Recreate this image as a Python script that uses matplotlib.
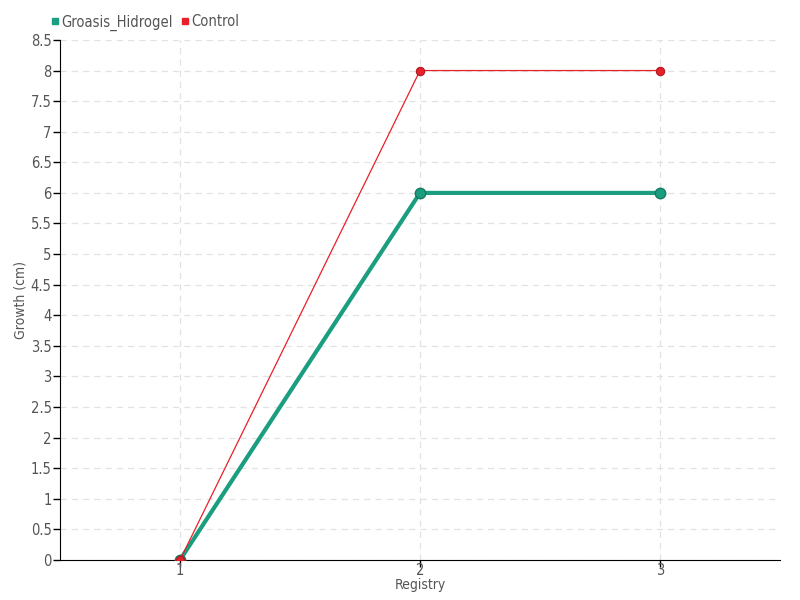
import matplotlib
matplotlib.use('Agg')
from matplotlib import pyplot as plt
from matplotlib.lines import Line2D

# donnees
registros = [1, 2, 3]
groasis_hidrogel = [0, 6, 6]
control = [0, 8, 8]
yticks = [0, 0.5, 1, 1.5, 2, 2.5, 3, 3.5, 4, 4.5, 5, 5.5, 6, 6.5, 7, 7.5, 8, 8.5]

plt.rcParams['font.family'] = ['DejaVu Sans']
plt.rcParams['font.stretch'] = 'condensed'

verde = '#1b9e7f'
rojo = '#e8202a'
gris = '#555555'

fig = plt.figure(figsize=(8, 6), dpi=100)
ax = fig.add_axes([0.075, 0.0667, 0.9, 0.8667])

ax.plot(registros, groasis_hidrogel, color=verde, lw=3, marker='o', ms=7.5,
        mfc=verde, mec='#157a62', mew=1, zorder=3)
ax.plot(registros, control, color=rojo, lw=0.9, marker='o', ms=6,
        mfc=rojo, mec='#b01820', mew=0.8, zorder=4)

ax.set_xlim(0.5, 3.5)
ax.set_ylim(0, 8.5)
ax.set_xticks(registros)
ax.set_xticklabels([str(r) for r in registros])
ax.set_yticks(yticks)
ax.set_yticklabels(['%g' % t for t in yticks])

ax.grid(True, color='#e2e2e2', ls=(0, (5, 4)), lw=0.9)
ax.set_axisbelow(True)
for s in ['top', 'right']:
    ax.spines[s].set_visible(False)
ax.tick_params(axis='both', colors='black', labelcolor=gris, labelsize=10.5, length=5, width=1, pad=1)
ax.tick_params(axis='x', pad=-3)

ax.set_xlabel('Registry', color=gris, fontsize=10, labelpad=0.5)
ax.set_ylabel('Growth (cm)', color=gris, fontsize=10, labelpad=2)

handles = [Line2D([], [], ls='', marker='s', ms=4.5, color=verde),
           Line2D([], [], ls='', marker='s', ms=4.5, color=rojo)]
fig.legend(handles, ['Groasis_Hidrogel', 'Control'], loc='upper left',
           bbox_to_anchor=(0.045, 0.998), ncol=2, frameon=False, fontsize=10.5,
           handletextpad=0.05, columnspacing=0.4, handlelength=0.8, labelcolor=gris)

plt.savefig('out.png')
